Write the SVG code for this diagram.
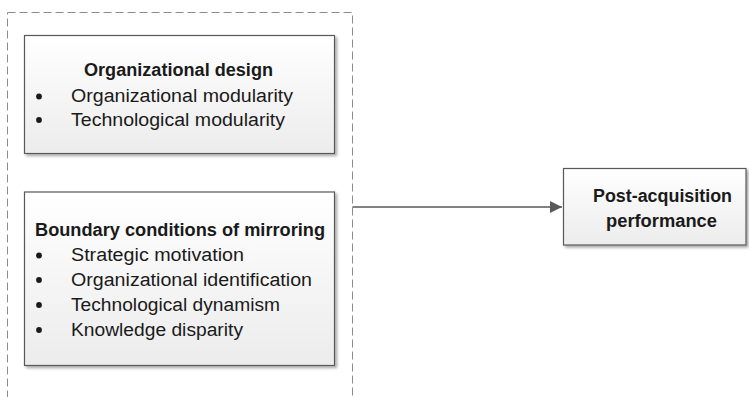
<svg xmlns="http://www.w3.org/2000/svg" width="749" height="397" viewBox="0 0 749 397">
  <defs>
    <linearGradient id="boxfill" x1="0" y1="0" x2="0" y2="1">
      <stop offset="0" stop-color="#ffffff"/>
      <stop offset="1" stop-color="#ececec"/>
    </linearGradient>
    <filter id="shadow" x="-10%" y="-10%" width="130%" height="130%">
      <feGaussianBlur in="SourceAlpha" stdDeviation="1.5"/>
      <feOffset dx="2" dy="2" result="b"/>
      <feComponentTransfer><feFuncA type="linear" slope="0.35"/></feComponentTransfer>
      <feMerge><feMergeNode/><feMergeNode in="SourceGraphic"/></feMerge>
    </filter>
    <marker id="arrow" viewBox="0 0 12 12" refX="12" refY="6" markerWidth="12" markerHeight="12" markerUnits="userSpaceOnUse" orient="auto">
      <path d="M0,0 L12,6 L0,12 z" fill="#595959"/>
    </marker>
    <style>
      .box { fill: url(#boxfill); stroke: #595959; stroke-width: 1.2; filter: url(#shadow); }
      .container { fill: none; stroke: #8c8c8c; stroke-width: 1; stroke-dasharray: 8 4; }
      .t { font-family: "Liberation Sans", Arial, sans-serif; font-size: 18px; fill: #1a1a1a; }
      .b { font-weight: bold; }
      .dot { fill: #1a1a1a; }
      .conn { stroke: #595959; stroke-width: 1.6; fill: none; }
    </style>
  </defs>

  <g id="container">
    <rect class="container" x="7.5" y="12.5" width="345" height="400"/>
  </g>

  <g id="organizational-design">
    <rect class="box" x="24.5" y="35.5" width="310" height="118"/>
    <text class="t b" x="84" y="75.5" textLength="189" lengthAdjust="spacingAndGlyphs">Organizational design</text>
    <circle class="dot" cx="39" cy="96.5" r="2.9"/>
    <text class="t" x="71" y="102" textLength="222" lengthAdjust="spacingAndGlyphs">Organizational modularity</text>
    <circle class="dot" cx="39" cy="120" r="2.9"/>
    <text class="t" x="71" y="125.5" textLength="214" lengthAdjust="spacingAndGlyphs">Technological modularity</text>
  </g>

  <g id="boundary-conditions">
    <rect class="box" x="24.5" y="192" width="310" height="173.5"/>
    <text class="t b" x="35" y="235.5" textLength="290" lengthAdjust="spacingAndGlyphs">Boundary conditions of mirroring</text>
    <circle class="dot" cx="39" cy="255.5" r="2.9"/>
    <text class="t" x="71" y="261" textLength="173" lengthAdjust="spacingAndGlyphs">Strategic motivation</text>
    <circle class="dot" cx="39" cy="280" r="2.9"/>
    <text class="t" x="71" y="285.5" textLength="241" lengthAdjust="spacingAndGlyphs">Organizational identification</text>
    <circle class="dot" cx="39" cy="305" r="2.9"/>
    <text class="t" x="71" y="310.5" textLength="209" lengthAdjust="spacingAndGlyphs">Technological dynamism</text>
    <circle class="dot" cx="39" cy="330" r="2.9"/>
    <text class="t" x="71" y="335.5" textLength="172" lengthAdjust="spacingAndGlyphs">Knowledge disparity</text>
  </g>

  <g id="post-acquisition-performance">
    <rect class="box" x="563.5" y="168.5" width="182.5" height="76.5"/>
    <text class="t b" x="593" y="202" textLength="139" lengthAdjust="spacingAndGlyphs">Post-acquisition</text>
    <text class="t b" x="606" y="227" textLength="111" lengthAdjust="spacingAndGlyphs">performance</text>
  </g>

  <g id="connectors">
    <path class="conn" d="M352.5,207 L562,207" marker-end="url(#arrow)"/>
  </g>
</svg>
